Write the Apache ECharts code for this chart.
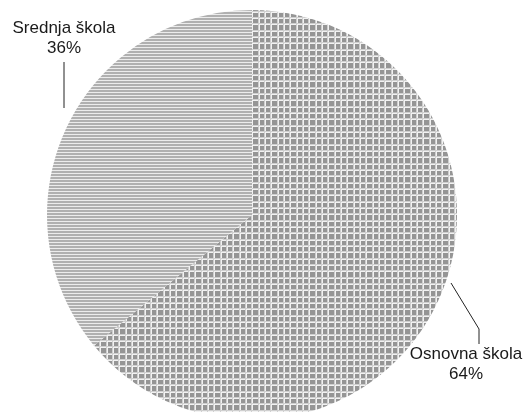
<!DOCTYPE html>
<html>
<head>
<meta charset="utf-8">
<script src="https://cdn.jsdelivr.net/npm/echarts@6/dist/echarts.min.js"></script>
<style>
html,body{margin:0;padding:0;background:#fff;}
#c{width:525px;height:412px;}
</style>
</head>
<body>
<div id="c"></div>
<script>
const categories = ['Osnovna škola', 'Srednja škola'];
const values = [64, 36];

function gridPattern() {
  const c = document.createElement('canvas');
  c.width = 19; c.height = 19;
  const g = c.getContext('2d');
  g.fillStyle = '#f2f2f2'; g.fillRect(0, 0, 19, 19);
  const starts = [0, 6, 13], sizes = [4, 5, 4];
  for (let i = 0; i < 3; i++) {
    g.fillStyle = '#cfcfcf';
    g.fillRect(starts[i] + sizes[i], 0, 1, 19);
    g.fillRect(0, starts[i] + sizes[i], 19, 1);
  }
  g.fillStyle = '#959595';
  for (let i = 0; i < 3; i++) for (let j = 0; j < 3; j++) {
    g.fillRect(starts[i], starts[j], sizes[i], sizes[j]);
  }
  return c;
}
function stripePattern() {
  const c = document.createElement('canvas');
  c.width = 4; c.height = 3;
  const g = c.getContext('2d');
  g.fillStyle = '#ececec'; g.fillRect(0, 0, 4, 3);
  g.fillStyle = '#b0b0b0'; g.fillRect(0, 0, 4, 2);
  return c;
}

const patterns = [gridPattern(), stripePattern()];
const labelPos = [
  {x: 466, y: 364, line: [[451, 283], [479, 329], [479, 344]]},
  {x: 64, y: 38, line: [[64, 108], [64, 85], [64, 62]]}
];

const chart = echarts.init(document.getElementById('c'), null, {renderer: 'canvas'});
chart.setOption({
  animation: false,
  series: [{
    type: 'pie',
    center: [252, 215],
    radius: 205,
    startAngle: 90,
    clockwise: true,
    avoidLabelOverlap: false,
    data: categories.map((n, i) => ({
      name: n,
      value: values[i],
      itemStyle: {color: {image: patterns[i], repeat: 'repeat'}}
    })),
    itemStyle: {borderWidth: 0},
    label: {
      show: true,
      position: 'outside',
      formatter: '{b}\n{d}%',
      fontFamily: 'Liberation Sans, Arial, sans-serif',
      fontSize: 17,
      lineHeight: 20,
      color: '#1a1a1a',
      align: 'center',
      overflow: 'none',
      width: 200
    },
    labelLine: {show: true, lineStyle: {color: '#222', width: 1}},
    labelLayout: function (p) {
      const L = labelPos[p.dataIndex];
      return {x: L.x, y: L.y, align: 'center', verticalAlign: 'middle', hideOverlap: false, labelLinePoints: L.line};
    },
    emphasis: {disabled: true}
  }]
});
</script>
</body>
</html>
